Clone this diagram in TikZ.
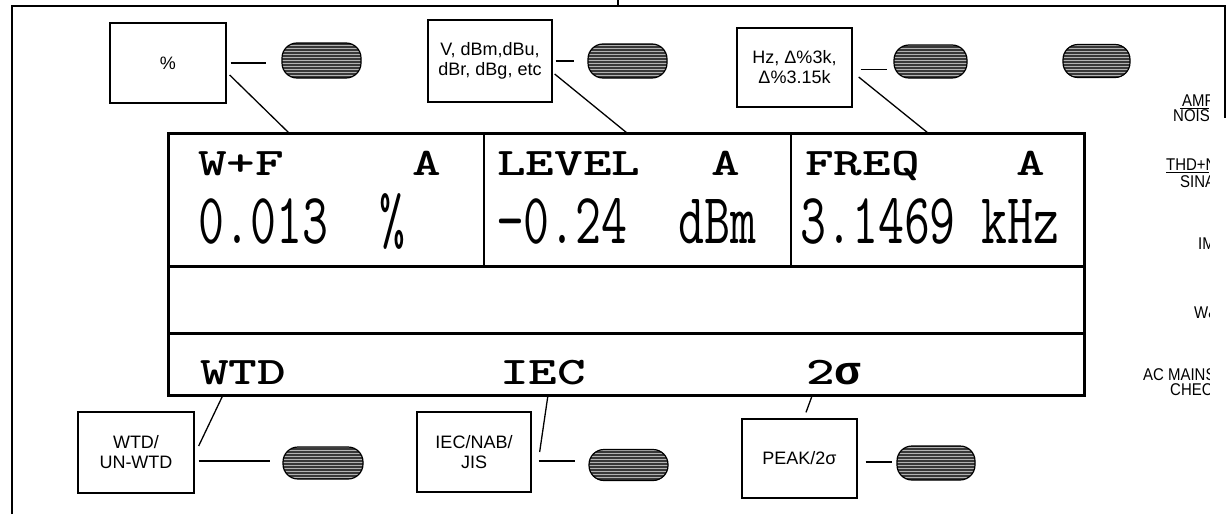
\documentclass[tikz,border=0pt]{standalone}
\usepackage{fontspec}
\setmainfont{Liberation Sans}
\newfontfamily\lcdfont{Liberation Mono}
\usetikzlibrary{patterns}
\newcommand\lcdlabtext[1]{{\fontsize{39}{39}\selectfont\ttfamily\bfseries\scalebox{1.4}[1]{#1}}}
\newcommand\lcdsigtext[1]{{\fontsize{40}{40}\selectfont\lcdfont\bfseries\scalebox{1.1}[1]{#1}}}
\newcommand\lcdnumtext[1]{{\fontsize{72}{72}\selectfont\ttfamily\scalebox{0.70}[1]{#1}}}
\newcommand\sidetext[1]{{\fontsize{17}{17}\selectfont\scalebox{0.88}[1]{#1}}}
\begin{document}
\begin{tikzpicture}[x=1pt,y=-1pt,
  callout/.style={draw, line width=1.3pt, align=center, inner sep=2pt,
    font=\fontsize{18}{20}\selectfont},
  pill/.style={draw=black, line width=1.2pt, rounded corners=15pt,
    preaction={fill=black!78}, pattern=horizontal lines, pattern color=black!30, inner sep=0pt},
  lead/.style={line width=1.3pt},
  lcd/.style={anchor=base west, inner sep=0pt},
  side/.style={anchor=base west, inner sep=0pt}]
\useasboundingbox (0,0) rectangle (1226,514);

% outer frame
\draw[line width=2pt] (12,514) -- (12,6) -- (1226,6);
\draw[line width=1.5pt] (618,0) -- (618,6);
\draw[line width=1.2pt] (1225,6) -- (1225,118);

% display
\draw[line width=3pt] (168,133) rectangle (1084,395);
\draw[line width=3pt] (168,266) -- (1084,266);
\draw[line width=3pt] (168,333) -- (1084,333);
\draw[line width=2.5pt] (484,133) -- (484,266);
\draw[line width=2.5pt] (791,133) -- (791,266);

% display texts
\node[lcd] (wf) at (198,175) {\lcdlabtext{W+F}};
\node[lcd] (a1) at (412,175) {\lcdlabtext{A}};
\node[lcd] (lev) at (497,175) {\lcdlabtext{LEVEL}};
\node[lcd] (a2) at (711,175) {\lcdlabtext{A}};
\node[lcd] (frq) at (805,175) {\lcdlabtext{FREQ}};
\node[lcd] (a3) at (1016,175) {\lcdlabtext{A}};
\node[lcd] (n1) at (198,243) {\lcdnumtext{0.013\ \ \%}};
\node[lcd] (n2) at (497,243) {\lcdnumtext{\char"2212 0.24\ \ dBm}};
\node[lcd] (n3) at (800,243) {\lcdnumtext{3.1469\ kHz}};
\node[lcd] (wtd) at (200,384) {\lcdlabtext{WTD}};
\node[lcd] (iec) at (500,384) {\lcdlabtext{IEC}};
\node[lcd] (sig) at (806,384) {\lcdlabtext{2}\lcdsigtext{σ}};

% display edge coordinates
\coordinate (t1) at (289,133);
\coordinate (t2) at (627,133);
\coordinate (t3) at (928,133);
\coordinate (u1) at (223,395);
\coordinate (u2) at (548,395);
\coordinate (u3) at (812,396);

% callout boxes
\node[callout, minimum width=116pt, minimum height=80pt] (b1) at (168,63) {\%};
\node[callout, minimum width=124pt, minimum height=82pt] (b2) at (490,61) {V, dBm,dBu,\\dBr, dBg, etc};
\node[callout, minimum width=115pt, minimum height=79pt] (b3) at (794.5,67.5) {Hz, Δ\%3k,\\Δ\%3.15k};
\node[callout, minimum width=116pt, minimum height=81pt] (b4) at (136,452.5) {WTD/\\UN-WTD};
\node[callout, minimum width=114pt, minimum height=80pt] (b5) at (474,452) {IEC/NAB/\\JIS};
\node[callout, minimum width=115pt, minimum height=79pt] (b6) at (799.5,458.5) {PEAK/2σ};

% pills
\node[pill, minimum width=79pt, minimum height=35pt] (p1) at (321.5,60.5) {};
\node[pill, minimum width=79pt, minimum height=34pt] (p2) at (627.5,61) {};
\node[pill, minimum width=73pt, minimum height=33pt] (p3) at (930.5,61.5) {};
\node[pill, minimum width=67pt, minimum height=33pt] (p4) at (1096.5,61) {};
\node[pill, minimum width=80pt, minimum height=32pt] (p5) at (323,463) {};
\node[pill, minimum width=79pt, minimum height=31pt] (p6) at (628.5,465) {};
\node[pill, minimum width=78pt, minimum height=34pt] (p7) at (936,463) {};

% horizontal leads
\draw[lead, shorten <=4pt, shorten >=15pt] (b1.east) -- (b1.east -| p1.west);
\draw[lead, shorten <=3pt, shorten >=13pt] (b2.east) -- (b2.east -| p2.west);
\draw[lead, shorten <=8pt, shorten >=6pt] ([yshift=-2pt]b3.east) -- ([yshift=-2pt]b3.east -| p3.west);
\draw[lead, shorten <=4pt, shorten >=12pt] ([yshift=-8.5pt]b4.east) -- ([yshift=-8.5pt]b4.east -| p5.west);
\draw[lead, shorten <=7pt, shorten >=13pt] ([yshift=-9pt]b5.east) -- ([yshift=-9pt]b5.east -| p6.west);
\draw[lead, shorten <=8pt, shorten >=4pt] ([yshift=-3.5pt]b6.east) -- ([yshift=-3.5pt]b6.east -| p7.west);

% diagonal leads to display
\draw[lead] ([shift={(3,12)}]b1.east) -- (t1);
\draw[lead] ([shift={(2,13)}]b2.east) -- (t2);
\draw[lead] ([shift={(6,9.5)}]b3.east) -- (t3);
\draw[lead] ([shift={(4,-6.5)}]b4.east) -- (u1);
\draw[lead] ([shift={(8,0)}]b5.east) -- (u2);
\draw[lead] ([shift={(6.5,-6)}]b6.north) -- (u3);

% right-side labels (cut at the edge)
\begin{scope}
\clip (0,0) rectangle (1209,514);
\node[side] (s1) at (1182,106) {\sidetext{AMPL}};
\draw[line width=1pt] (1180,108) -- (1209,108);
\node[side] (s2) at (1173,121) {\sidetext{NOISE}};
\node[side] (s3) at (1166,170) {\sidetext{THD+N}};
\draw[line width=1pt] (1166,172) -- (1209,172);
\node[side] (s4) at (1180,187) {\sidetext{SINAD}};
\node[side] (s5) at (1198,249) {\sidetext{IMD}};
\node[side] (s6) at (1194,318) {\sidetext{W\&F}};
\node[side] (s7) at (1143,380) {\sidetext{AC MAINS}};
\node[side] (s8) at (1170,395) {\sidetext{CHECK}};
\end{scope}
\end{tikzpicture}
\end{document}
